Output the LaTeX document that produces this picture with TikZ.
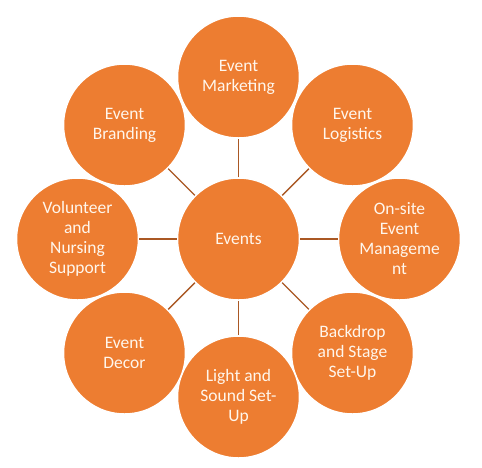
\documentclass[tikz,border=0pt]{standalone}
\usepackage{fontspec}
\setmainfont{Carlito}
\definecolor{evorange}{RGB}{237,125,49}
\definecolor{evline}{RGB}{170,88,36}
\definecolor{evtext}{RGB}{255,246,236}

\begin{document}
\begin{tikzpicture}[x=1pt,y=-1pt,
  bubble/.style={circle,minimum size=122pt,inner sep=0pt,fill=evorange,draw=white,
    line width=1.5pt,text=evtext,align=center,font=\fontsize{17.5}{20}\selectfont},
  spoke/.style={evline,line width=1.4pt}]
  \useasboundingbox (0,0) rectangle (482,467);
  % ===================== circulos =====================
  \node[bubble] (hub) at (238.5,239){Events};
  \node[bubble] (mkt) at (238.5,77){Event\\Marketing};
  \node[bubble] (logi) at (352.5,125){Event\\Logistics};
  \node[bubble] (onsite) at (399.5,239){On-site\\Event\\Manageme\\nt};
  \node[bubble] (stage) at (352.5,353){Backdrop\\and Stage\\Set-Up};
  \node[bubble] (light) at (238.5,397){Light and\\Sound Set-\\Up};
  \node[bubble] (decor) at (124.5,353){Event\\Decor};
  \node[bubble] (volun) at (77.5,239){Volunteer\\and\\Nursing\\Support};
  \node[bubble] (brand) at (124.5,125){Event\\Branding};
  % ===================== radios =====================
  \foreach \n in {mkt,logi,onsite,stage,light,decor,volun,brand}
    \draw[spoke] (hub) -- (\n);
\end{tikzpicture}
\end{document}
